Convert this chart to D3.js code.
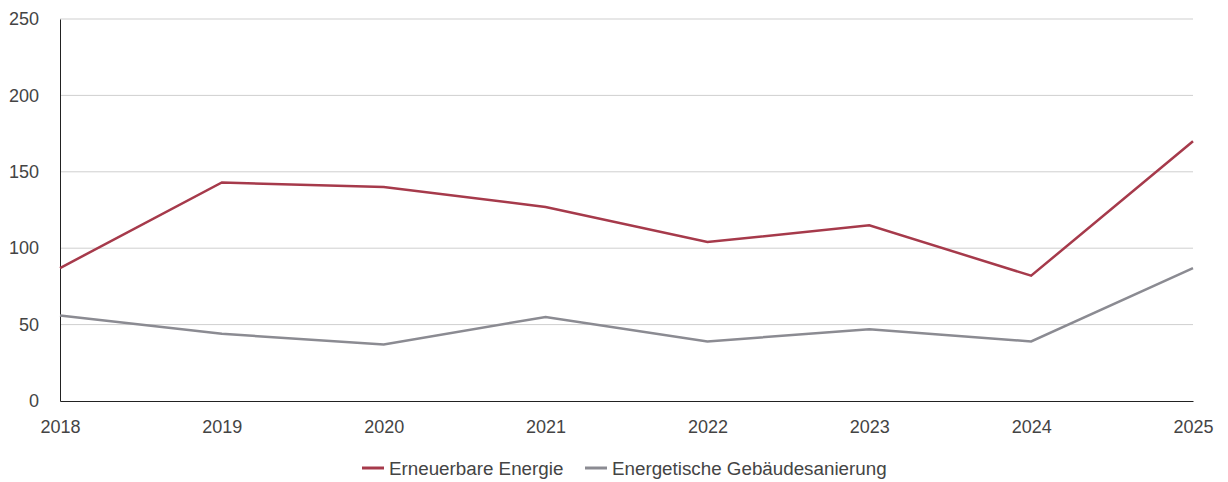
<!DOCTYPE html>
<html>
<head>
<meta charset="utf-8">
<script src="https://cdn.jsdelivr.net/npm/d3@7"></script>
<style>
  html, body { margin: 0; padding: 0; background: #fff; }
  svg { display: block; font-family: "Liberation Sans", Arial, sans-serif; }
</style>
</head>
<body>
<svg id="chart" width="1228" height="482"></svg>
<script>
const years = ["2018", "2019", "2020", "2021", "2022", "2023", "2024", "2025"];
const erneuerbare = [87, 143, 140, 127, 104, 115, 82, 170];
const gebaeude = [56, 44, 37, 55, 39, 47, 39, 87];
const yTicks = [0, 50, 100, 150, 200, 250];
const seriesNames = ["Erneuerbare Energie", "Energetische Gebäudesanierung"];
const seriesColors = ["#a63a4b", "#8b8b92"];

const svg = d3.select("#chart");
const margin = { left: 60, right: 35, top: 19, bottom: 81 };
const W = 1228, H = 482;

const x = d3.scalePoint().domain(years).range([margin.left, W - margin.right]);
const y = d3.scaleLinear().domain([0, 250]).range([H - margin.bottom, margin.top]);

// horizontal grid
svg.append("g")
  .selectAll("line")
  .data(yTicks.filter(d => d > 0))
  .join("line")
  .attr("x1", margin.left).attr("x2", W - margin.right)
  .attr("y1", d => y(d)).attr("y2", d => y(d))
  .attr("stroke", "#cfcfcf").attr("stroke-width", 1);

// y axis
const yAxis = svg.append("g")
  .attr("transform", `translate(${margin.left},0)`)
  .call(d3.axisLeft(y).tickValues(yTicks).tickSize(0).tickPadding(21));
yAxis.select(".domain").attr("stroke", "#222").attr("stroke-width", 1);
yAxis.selectAll("text").attr("font-size", 18).attr("fill", "#444")
  .attr("font-family", "Liberation Sans, Arial, sans-serif");

// x axis
const xAxis = svg.append("g")
  .attr("transform", `translate(0,${y(0)})`)
  .call(d3.axisBottom(x).tickSize(0).tickPadding(19));
xAxis.select(".domain").attr("stroke", "#222").attr("stroke-width", 1);
xAxis.selectAll("text").attr("font-size", 18).attr("fill", "#444")
  .attr("font-family", "Liberation Sans, Arial, sans-serif");

// lines
const line = d3.line().x((d, i) => x(years[i])).y(d => y(d));
[erneuerbare, gebaeude].forEach((vals, k) => {
  svg.append("path")
    .datum(vals)
    .attr("fill", "none")
    .attr("stroke", seriesColors[k])
    .attr("stroke-width", 2.5)
    .attr("stroke-linejoin", "miter")
    .attr("d", line);
});

// legend
const legendY = 468;
const legendItems = [
  { x: 362, name: seriesNames[0], color: seriesColors[0] },
  { x: 585, name: seriesNames[1], color: seriesColors[1] }
];
const lg = svg.append("g");
legendItems.forEach(it => {
  lg.append("line")
    .attr("x1", it.x).attr("x2", it.x + 22)
    .attr("y1", legendY).attr("y2", legendY)
    .attr("stroke", it.color).attr("stroke-width", 3);
  lg.append("text")
    .attr("x", it.x + 27).attr("y", legendY)
    .attr("dy", "0.35em")
    .attr("font-size", 18.8).attr("fill", "#444")
    .text(it.name);
});
</script>
</body>
</html>
